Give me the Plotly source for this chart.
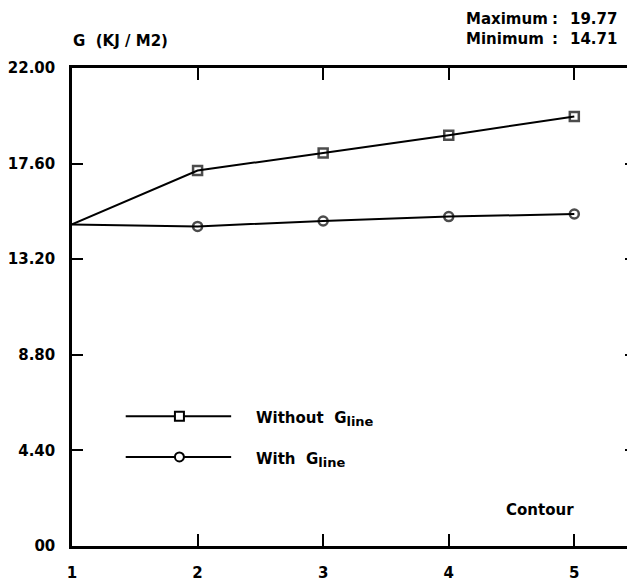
import plotly.graph_objects as go

contours = [1, 2, 3, 4, 5]
without_gline = [14.80, 17.28, 18.09, 18.91, 19.77]
with_gline = [14.80, 14.71, 14.96, 15.16, 15.28]
y_tick_vals = [0, 4.4, 8.8, 13.2, 17.6, 22.0]
y_tick_text = ["00", "4.40", "8.80", "13.20", "17.60", "22.00"]
x_tick_vals = [1, 2, 3, 4, 5]
x_tick_text = ["1", "2", "3", "4", "5"]
max_value = 19.77
min_value = 14.71

OFF = 8  # page body margin
W, H = 635 - OFF, 582 - OFF
ML, MR, MT, MB = 61, 0, 60, 31
PW, PH = W - ML - MR, H - MT - MB
FONT = "DejaVu Sans"
FS = 15

def px(x):  # screenshot x -> paper
    return (x - OFF - ML) / PW

def py(y):  # screenshot y -> paper
    return (H - MB - (y - OFF)) / PH

fig = go.Figure()
msizes = [0, 9, 9, 9, 9]
fig.add_trace(go.Scatter(
    x=contours, y=without_gline, mode="lines+markers",
    line=dict(color="black", width=2),
    marker=dict(symbol="square-open", size=msizes, color="black", line=dict(width=2.5)),
    showlegend=False, cliponaxis=False))
fig.add_trace(go.Scatter(
    x=contours, y=with_gline, mode="lines+markers",
    line=dict(color="black", width=2),
    marker=dict(symbol="circle-open", size=msizes, color="black", line=dict(width=2.5)),
    showlegend=False, cliponaxis=False))
fig.add_trace(go.Scatter(x=[contours[0]], y=[y_tick_vals[0]], yaxis="y2",
                         mode="markers", marker=dict(opacity=0), showlegend=False,
                         hoverinfo="skip"))

tickfont = dict(family=FONT, size=FS, color="black", weight="bold")
fig.update_layout(
    width=W, height=H,
    margin=dict(l=ML, r=MR, t=MT, b=MB, pad=0),
    paper_bgcolor="white", plot_bgcolor="white",
    font=dict(family=FONT, size=FS, color="black", weight="bold"),
    xaxis=dict(range=[1, 1 + PW / 126.25], tickvals=x_tick_vals, ticktext=x_tick_text,
               ticks="inside", ticklen=12, tickwidth=2, tickcolor="black",
               showline=True, linecolor="black", linewidth=2.5, mirror="ticks",
               showgrid=False, zeroline=False, ticklabelstandoff=11, tickfont=tickfont),
    yaxis=dict(range=[0, 22], tickvals=y_tick_vals, ticktext=y_tick_text,
               ticks="inside", ticklen=11, tickwidth=2, tickcolor="black",
               showline=True, linecolor="black", linewidth=2.5,
               showgrid=False, zeroline=False, ticklabelstandoff=11, tickfont=tickfont),
    yaxis2=dict(range=[0, 22], overlaying="y", side="right", tickvals=y_tick_vals[1:5],
                showticklabels=False, ticks="inside", ticklen=10, tickwidth=2,
                tickcolor="black", showline=False, showgrid=False, zeroline=False),
)

# legend drawn manually
for ly, sym in [(420, "square"), (461, "circle")]:
    fig.add_shape(type="line", xref="paper", yref="paper",
                  x0=px(123), x1=px(229), y0=py(ly), y1=py(ly),
                  line=dict(color="black", width=2))
    fig.add_shape(type="rect" if sym == "square" else "circle",
                  xref="paper", yref="paper", xsizemode="pixel", ysizemode="pixel",
                  xanchor=px(177), yanchor=py(ly), x0=-4.5, x1=4.5, y0=-4.5, y1=4.5,
                  line=dict(color="black", width=2), fillcolor="white")

sub = "<sub><span style='font-size:13px'>line</span></sub>"
fig.add_annotation(xref="paper", yref="paper", x=px(252), y=py(423), xanchor="left",
                   yanchor="middle", text="Without  G" + sub, showarrow=False)
fig.add_annotation(xref="paper", yref="paper", x=px(252), y=py(464), xanchor="left",
                   yanchor="middle", text="With  G" + sub, showarrow=False)
fig.add_annotation(xref="paper", yref="paper", x=px(576), y=py(515), xanchor="right",
                   yanchor="middle", text="Contour", showarrow=False)
fig.add_annotation(xref="paper", yref="paper", x=px(68), y=py(41), xanchor="left",
                   yanchor="middle", text="G  (KJ / M2)", showarrow=False)
for yy, lab, val in [(18, "Maximum", max_value), (39, "Minimum", min_value)]:
    fig.add_annotation(xref="paper", yref="paper", x=px(463), y=py(yy), xanchor="left",
                       yanchor="middle", text=lab, showarrow=False)
    fig.add_annotation(xref="paper", yref="paper", x=px(550), y=py(yy), xanchor="left",
                       yanchor="middle", text=":", showarrow=False)
    fig.add_annotation(xref="paper", yref="paper", x=px(619), y=py(yy), xanchor="right",
                       yanchor="middle", text=f"{val:.2f}", showarrow=False)

fig.write_html("out.html")
